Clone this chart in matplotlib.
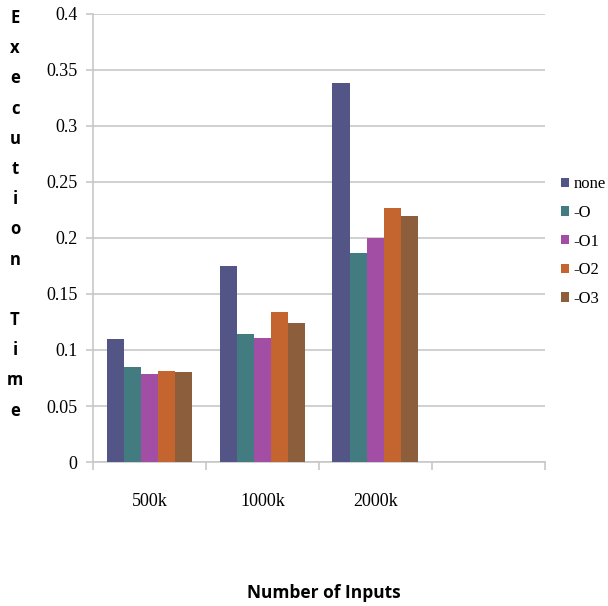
import numpy as np
import matplotlib.pyplot as plt

plt.rcParams["font.family"] = ["Liberation Serif", "DejaVu Serif"]

# execution time per input size and optimisation flag
categories = ["500k", "1000k", "2000k", ""]
flags = ["none", "-O", "-O1", "-O2", "-O3"]
t_none = [0.110, 0.175, 0.338]
t_O = [0.085, 0.114, 0.187]
t_O1 = [0.079, 0.111, 0.200]
t_O2 = [0.081, 0.134, 0.227]
t_O3 = [0.080, 0.124, 0.220]
colors = ["#545587", "#437C80", "#A24EA4", "#C4652F", "#8C5E3C"]

series = [t_none, t_O, t_O1, t_O2, t_O3]
grid_col = "#C8C8C8"

fig = plt.figure(figsize=(6.08, 6.06), dpi=100)
ax = fig.add_axes([0.153, 0.2376, 0.743, 0.7394])

width = 0.152
x = np.arange(len(t_none))
for i, (vals, name, c) in enumerate(zip(series, flags, colors)):
    ax.bar(x + (i - 2) * width, vals, width, color=c, label=name,
           edgecolor="none", zorder=3)

ax.set_xlim(-0.5, len(categories) - 0.5)
ax.set_ylim(0, 0.4)
ax.set_yticks(np.arange(0, 0.401, 0.05))
ax.set_yticklabels(["0", "0.05", "0.1", "0.15", "0.2", "0.25", "0.3", "0.35", "0.4"],
                   fontsize=13)
ax.set_xticks(np.arange(len(categories)))
ax.set_xticklabels(categories, fontsize=13)
ax.tick_params(axis="x", which="major", length=0, pad=22)
ax.set_xticks(np.arange(len(categories) + 1) - 0.5, minor=True)
ax.tick_params(axis="x", which="minor", length=6, color=grid_col, width=1.2)
ax.tick_params(axis="y", length=5, color=grid_col, width=1.2, pad=6)

ax.yaxis.grid(True, color=grid_col, linewidth=1.2, zorder=0)
for s in ["top", "right"]:
    ax.spines[s].set_visible(False)
for s in ["left", "bottom"]:
    ax.spines[s].set_color(grid_col)
    ax.spines[s].set_linewidth(1.2)

leg = ax.legend(loc="center left", bbox_to_anchor=(1.036, 0.492), frameon=False,
                prop={"size": 12}, borderaxespad=0, borderpad=0,
                handlelength=0.5, handleheight=0.5, handletextpad=0.25,
                labelspacing=0.76)

# stacked vertical axis title
letters = "Execution Time"
y0 = 1 - 18 / 606
for k, ch in enumerate(letters):
    fig.text(15 / 608, y0 - k * 30.2 / 606, ch, ha="center", va="center",
             fontfamily="Open Sans", fontweight="bold", fontsize=12)

fig.text(324 / 608, 1 - 593 / 606, "Number of Inputs", ha="center", va="center",
         fontfamily="Open Sans", fontweight="bold", fontsize=12.5)

fig.savefig("out.png", dpi=100)
